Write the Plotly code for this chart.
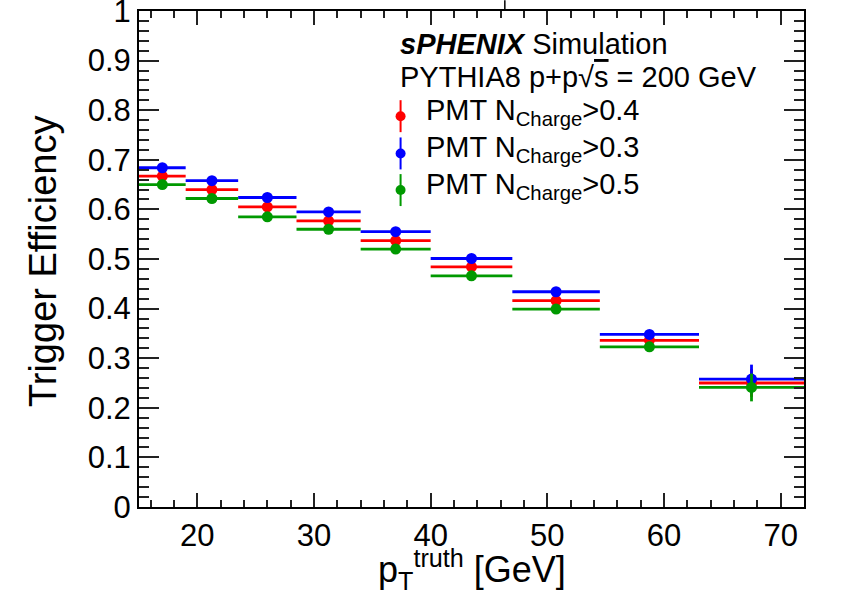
import plotly.graph_objects as go

# ---------------- data ----------------
BIN_EDGES = [15, 19, 23.5, 28.5, 34, 40, 47, 54.5, 63, 72]
EFF_N04 = [0.667, 0.640, 0.605, 0.577, 0.537, 0.484, 0.416, 0.336, 0.250]
EFF_N03 = [0.684, 0.658, 0.624, 0.595, 0.555, 0.501, 0.434, 0.348, 0.258]
EFF_N05 = [0.650, 0.622, 0.585, 0.560, 0.520, 0.466, 0.399, 0.323, 0.241]
ERR_N04 = [0.003, 0.003, 0.004, 0.004, 0.005, 0.006, 0.007, 0.008, 0.028]
ERR_N03 = [0.003, 0.003, 0.004, 0.004, 0.005, 0.006, 0.007, 0.008, 0.029]
ERR_N05 = [0.003, 0.003, 0.004, 0.004, 0.005, 0.006, 0.007, 0.008, 0.028]
LABELS = ["PMT N<sub>Charge</sub>&gt;0.4", "PMT N<sub>Charge</sub>&gt;0.3", "PMT N<sub>Charge</sub>&gt;0.5"]
COLORS = ["#ff0000", "#0000ff", "#009900"]
X_TICKS = [20, 30, 40, 50, 60, 70]
Y_TICKS = [0, 0.1, 0.2, 0.3, 0.4, 0.5, 0.6, 0.7, 0.8, 0.9, 1]
Y_TICK_TEXT = ["0", "0.1", "0.2", "0.3", "0.4", "0.5", "0.6", "0.7", "0.8", "0.9", "1"]

centers = [(a + b) / 2 for a, b in zip(BIN_EDGES[:-1], BIN_EDGES[1:])]
halfw = [(b - a) / 2 for a, b in zip(BIN_EDGES[:-1], BIN_EDGES[1:])]

FONT = "Liberation Sans, Arial, Helvetica, sans-serif"

# layout geometry (pixels)
W, H = 845, 595
L, R, T, B = 139, 804.3, 10.7, 507.3

fig = go.Figure()

series = [(EFF_N04, ERR_N04), (EFF_N03, ERR_N03), (EFF_N05, ERR_N05)]
LEG_Y = [116, 153.3, 190]
LEG_X = 400.7

for i, ((eff, err), col, lab) in enumerate(zip(series, COLORS, LABELS)):
    fig.add_trace(go.Scatter(
        x=centers, y=eff, mode="markers",
        marker=dict(color=col, size=11, symbol="circle"),
        error_x=dict(type="data", array=halfw, symmetric=True, color=col, thickness=2.8, width=0),
        error_y=dict(type="data", array=err, symmetric=True, color=col, thickness=2.8, width=0),
        name=lab, xaxis="x", yaxis="y",
    ))
    # legend glyph
    fig.add_trace(go.Scatter(
        x=[LEG_X], y=[LEG_Y[i]], mode="markers",
        marker=dict(color=col, size=10),
        error_y=dict(type="constant", value=16, color=col, thickness=2, width=0),
        xaxis="x2", yaxis="y2", hoverinfo="skip",
    ))

annotations = [
    dict(x=398, y=43.3, xref="x2", yref="y2", xanchor="left", yanchor="middle",
         text="<b><i>sPHENIX</i></b> Simulation", showarrow=False,
         font=dict(family=FONT, size=29, color="black")),
    dict(x=398, y=76.7, xref="x2", yref="y2", xanchor="left", yanchor="middle",
         text="PYTHIA8 p+p√<span style='text-decoration:overline'>s</span> = 200 GeV", showarrow=False,
         font=dict(family=FONT, size=29, color="black")),
]
for i, lab in enumerate(LABELS):
    annotations.append(dict(x=424, y=LEG_Y[i] - 4, xref="x2", yref="y2", xanchor="left", yanchor="middle",
                            text=lab, showarrow=False,
                            font=dict(family=FONT, size=29, color="black")))

# axis titles
annotations.append(dict(x=(43 - L) / (R - L), y=(B - 262) / (B - T), xref="paper", yref="paper",
                        text="Trigger Efficiency", textangle=-90, showarrow=False,
                        xanchor="center", yanchor="middle",
                        font=dict(family=FONT, size=38, color="black")))
annotations.append(dict(x=0.5, y=(B - 570) / (B - T), xref="paper", yref="paper",
                        text="p<sub>T</sub><sup>truth</sup> [GeV]", showarrow=False,
                        xanchor="center", yanchor="middle",
                        font=dict(family=FONT, size=36, color="black")))

axis_common = dict(showline=True, linecolor="black", linewidth=2, mirror="ticks",
                   ticks="inside", tickcolor="#222222", tickwidth=1.5,
                   showgrid=False, zeroline=False, ticklabeloverflow="allow",
                   automargin=False,
                   tickfont=dict(family=FONT, size=31, color="black"))

fig.update_layout(
    width=W, height=H,
    margin=dict(l=L, r=W - R, t=T, b=H - B, pad=0, autoexpand=False),
    paper_bgcolor="white", plot_bgcolor="white",
    showlegend=False,
    xaxis=dict(range=[BIN_EDGES[0], BIN_EDGES[-1]], tickvals=X_TICKS, ticklen=14,
               minor=dict(dtick=2, ticklen=7, ticks="inside", tickcolor="#222222", tickwidth=1.5),
               **axis_common),
    yaxis=dict(range=[0, 1], tickvals=Y_TICKS, ticktext=Y_TICK_TEXT, ticklen=20,
               minor=dict(dtick=0.02, ticklen=10, ticks="inside", tickcolor="#222222", tickwidth=1.5),
               **axis_common),
    xaxis2=dict(domain=[0, 1], range=[L, R], overlaying="x", anchor="y2", visible=False),
    yaxis2=dict(domain=[0, 1], range=[B, T], overlaying="y", anchor="x2", visible=False),
    annotations=annotations,
    shapes=[dict(type="line", xref="paper", yref="paper",
                 x0=(505 - L) / (R - L), x1=(505 - L) / (R - L),
                 y0=(B - 0) / (B - T), y1=(B - 10.7) / (B - T),
                 line=dict(color="black", width=1.5))],
)

try:
    fig.update_xaxes(ticklabelstandoff=-6, selector=dict(anchor="y"))
    fig.update_yaxes(ticklabelstandoff=-3, selector=dict(anchor="x"))
except Exception:
    pass

fig.write_html("out.html")
